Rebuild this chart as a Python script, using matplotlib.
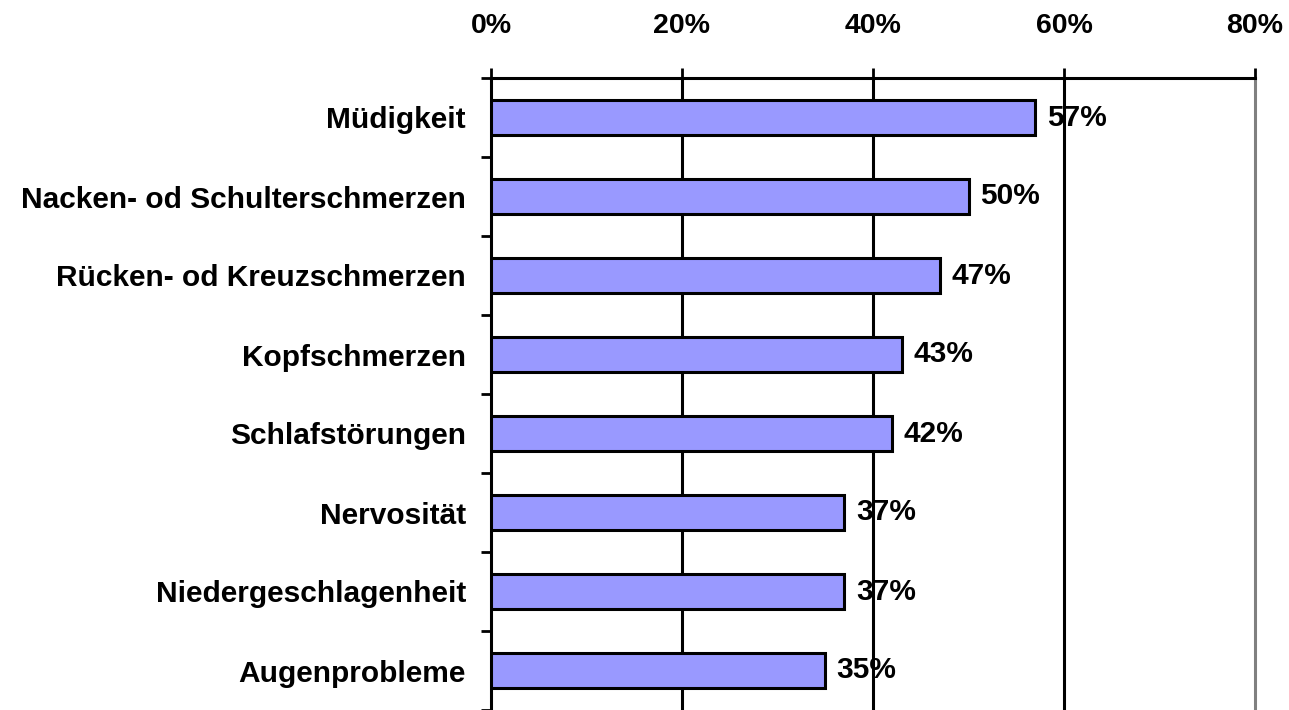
import numpy as np
import matplotlib as mpl
mpl.use('Agg')
import matplotlib.pyplot as plt
from matplotlib.ticker import FixedLocator

plt.rcParams['font.family'] = ['Liberation Sans', 'DejaVu Sans']
plt.rcParams['font.weight'] = 'bold'

categories = ['Müdigkeit', 'Nacken- od Schulterschmerzen', 'Rücken- od Kreuzschmerzen',
              'Kopfschmerzen', 'Schlafstörungen', 'Nervosität',
              'Niedergeschlagenheit', 'Augenprobleme']
values = [57, 50, 47, 43, 42, 37, 37, 35]
xticks = [0, 20, 40, 60, 80]
xticklabels = ['0%', '20%', '40%', '60%', '80%']

fig = plt.figure(figsize=(12.89, 7.10), dpi=100)
ax = fig.add_axes([491 / 1289, 0.0, 764 / 1289, 1 - 78 / 710])

y = np.arange(len(categories))
ax.barh(y, values, height=0.44, color='#9999ff', edgecolor='black', linewidth=2.2, zorder=3)
for yi, v in zip(y, values):
    ax.text(v + 1.2, yi, f'{v}%', va='center', ha='left', fontsize=21.5, fontweight='bold', zorder=4)

ax.set_xlim(0, 80)
ax.set_ylim(len(categories) - 0.5, -0.5)

# gridlines
for xv in xticks[1:]:
    ax.axvline(xv, color='black' if xv < 80 else '#808080', lw=2.2, zorder=1, clip_on=False)

ax.xaxis.set_ticks_position('top')
ax.set_xticks(xticks)
ax.set_xticklabels(xticklabels, fontsize=20.5, fontweight='bold')
ax.tick_params(axis='x', direction='out', length=7, width=2, pad=21)

ax.set_yticks(y)
ax.set_yticklabels(categories, fontsize=21.5, fontweight='bold')
ax.tick_params(axis='y', which='major', length=0, pad=18)
ax.yaxis.set_minor_locator(FixedLocator(np.arange(len(categories) + 1) - 0.5))
ax.tick_params(axis='y', which='minor', direction='out', length=7, width=2)

ax.spines['right'].set_visible(False)
ax.spines['bottom'].set_visible(False)
ax.spines['top'].set_linewidth(2.2)
ax.spines['left'].set_linewidth(2.2)

fig.savefig('out.png', dpi=100)
